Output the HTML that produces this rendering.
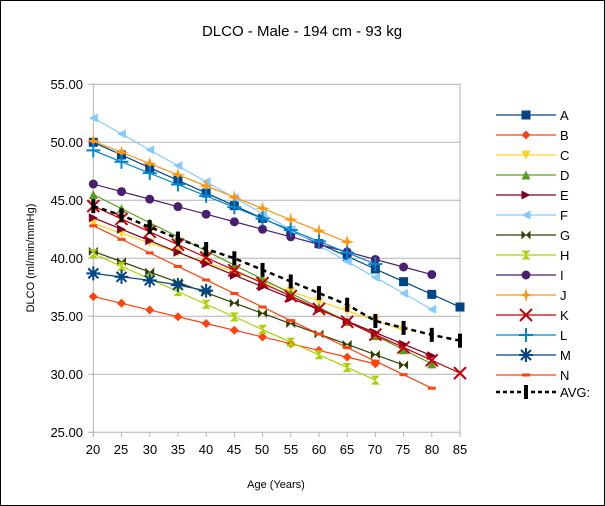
<!DOCTYPE html>
<html><head><meta charset="utf-8"><style>
html,body{margin:0;padding:0;background:#fff;}
svg{display:block;font-family:"Liberation Sans",sans-serif;}
</style></head><body>
<svg id="s" width="605" height="506" viewBox="0 0 605 506" xmlns="http://www.w3.org/2000/svg">
<rect x="0.5" y="0.5" width="604" height="505" fill="#fff" stroke="#000" stroke-width="1"/>
<text x="302" y="36" font-size="15" text-anchor="middle" fill="#000">DLCO - Male - 194 cm - 93 kg</text>
<g stroke="#b3b3b3" stroke-width="1" id="grid"></g>
<g font-size="13" fill="#000" text-anchor="end">
<text x="83" y="89">55.00</text>
<text x="83" y="147">50.00</text>
<text x="83" y="205">45.00</text>
<text x="83" y="263">40.00</text>
<text x="83" y="321">35.00</text>
<text x="83" y="379">30.00</text>
<text x="83" y="437">25.00</text>
</g>
<g font-size="13" fill="#000" text-anchor="middle" id="xl">
<text x="93" y="454">20</text><text x="121" y="454">25</text><text x="150" y="454">30</text><text x="178" y="454">35</text><text x="206" y="454">40</text><text x="234" y="454">45</text><text x="262" y="454">50</text><text x="291" y="454">55</text><text x="319" y="454">60</text><text x="347" y="454">65</text><text x="375" y="454">70</text><text x="403" y="454">75</text><text x="432" y="454">80</text><text x="460" y="454">85</text>
</g>
<text x="276" y="488" font-size="11" text-anchor="middle">Age (Years)</text>
<text transform="translate(34,258) rotate(-90)" font-size="11" text-anchor="middle">DLCO (ml/min/mmHg)</text>
<g font-size="13" fill="#000">
<text x="560" y="120">A</text><text x="560" y="140">B</text><text x="560" y="160">C</text><text x="560" y="180">D</text><text x="560" y="200">E</text><text x="560" y="220">F</text><text x="560" y="240">G</text><text x="560" y="260">H</text><text x="560" y="280">I</text><text x="560" y="300">J</text><text x="560" y="320">K</text><text x="560" y="340">L</text><text x="560" y="360">M</text><text x="560" y="380">N</text><text x="560" y="397">AVG:</text>
</g>
<g id="series"></g>
</svg>
<script>
var NS="http://www.w3.org/2000/svg";
function X(a){return 93.3+(a-20)*(366.7/65);}
function Y(v){return 84.3+(55-v)*11.6;}
var grid=document.getElementById('grid');
function el(t,at,p){var e=document.createElementNS(NS,t);for(var k in at)e.setAttribute(k,at[k]);(p||document.getElementById('series')).appendChild(e);return e;}
for(var v=25;v<=55;v+=5){el('line',{x1:88,x2:460,y1:Y(v),y2:Y(v)},grid);}
el('line',{x1:93.3,x2:93.3,y1:84,y2:437},grid);
el('line',{x1:460,x2:460,y1:84,y2:432},grid);
for(var a=20;a<=85;a+=5){el('line',{x1:X(a),x2:X(a),y1:432,y2:437},grid);}
function lin(a0,v0,a1,v1){var r=[];for(var a=a0;a<=a1;a+=5){r.push([a,v0+(v1-v0)*(a-a0)/(a1-a0)]);}return r;}
function mk(type,c,x,y){
 var s=4.5;
 switch(type){
 case 'sq':el('rect',{x:x-s,y:y-s,width:2*s,height:2*s,fill:c});break;
 case 'dia':el('polygon',{points:[x,y-s,x+s,y,x,y+s,x-s,y].join(' '),fill:c});break;
 case 'tdn':el('polygon',{points:[x-s,y-s,x+s,y-s,x,y+s].join(' '),fill:c});break;
 case 'tup':el('polygon',{points:[x-s,y+s,x+s,y+s,x,y-s].join(' '),fill:c});break;
 case 'tr':el('polygon',{points:[x-s,y-s,x+s,y,x-s,y+s].join(' '),fill:c});break;
 case 'tl':el('polygon',{points:[x+s,y-s,x-s,y,x+s,y+s].join(' '),fill:c});break;
 case 'bow':el('polygon',{points:[x-s,y-s,x,y,x-s,y+s].join(' '),fill:c});el('polygon',{points:[x+s,y-s,x,y,x+s,y+s].join(' '),fill:c});break;
 case 'hg':el('polygon',{points:[x-s,y-s,x+s,y-s,x,y].join(' '),fill:c});el('polygon',{points:[x-s,y+s,x+s,y+s,x,y].join(' '),fill:c});break;
 case 'cir':el('circle',{cx:x,cy:y,r:s,fill:c});break;
 case 'star':el('path',{d:'M'+x+' '+(y-7)+' L'+(x+1.5)+' '+(y-1.5)+' L'+(x+7)+' '+y+' L'+(x+1.5)+' '+(y+1.5)+' L'+x+' '+(y+7)+' L'+(x-1.5)+' '+(y+1.5)+' L'+(x-7)+' '+y+' L'+(x-1.5)+' '+(y-1.5)+'Z',fill:c});break;
 case 'x':el('path',{d:'M'+(x-6)+' '+(y-6)+'L'+(x+6)+' '+(y+6)+'M'+(x+6)+' '+(y-6)+'L'+(x-6)+' '+(y+6),stroke:c,'stroke-width':2,fill:'none'});break;
 case 'plus':el('path',{d:'M'+(x-7)+' '+y+'L'+(x+7)+' '+y+'M'+x+' '+(y-7)+'L'+x+' '+(y+7),stroke:c,'stroke-width':2,fill:'none'});break;
 case 'ast':el('path',{d:'M'+(x-7)+' '+y+'L'+(x+7)+' '+y+'M'+x+' '+(y-7)+'L'+x+' '+(y+7)+'M'+(x-5)+' '+(y-5)+'L'+(x+5)+' '+(y+5)+'M'+(x+5)+' '+(y-5)+'L'+(x-5)+' '+(y+5),stroke:c,'stroke-width':2,fill:'none'});break;
 case 'dash':el('rect',{x:x-4,y:y-1.5,width:8,height:3,fill:c});break;
 case 'bar':el('rect',{x:x-2,y:y-7,width:4,height:14,fill:c});break;
 }
}
var S=[
 ['#004586','sq',lin(20,50.0,85,35.8)],
 ['#ff420e','dia',lin(20,36.7,70,30.9)],
 ['#ffd320','tdn',lin(20,43.0,75,33.8)],
 ['#579d1c','tup',lin(20,45.5,80,30.9)],
 ['#7e0021','tr',lin(20,43.5,80,31.6)],
 ['#83caff','tl',lin(20,52.1,80,35.6)],
 ['#314004','bow',lin(20,40.6,75,30.8)],
 ['#aecf00','hg',lin(20,40.4,70,29.5)],
 ['#4b1f6f','cir',lin(20,46.4,80,38.6)],
 ['#ff950e','star',lin(20,50.1,65,41.4)],
 ['#c5000b','x',lin(20,44.5,85,30.1)],
 ['#0084d1','plus',lin(20,49.3,70,39.5)],
 ['#004586','ast',[[20,38.7],[25,38.4],[30,38.1],[35,37.7],[40,37.2]]],
 ['#ff420e','dash',lin(20,42.8,80,28.8)]
];
var avg=[[20,44.5],[25,43.7],[30,42.7],[35,41.7],[40,40.8],[45,40.0],[50,39.0],[55,38.0],[60,37.0],[65,36.0],[70,34.6],[75,34.0],[80,33.4],[85,32.9]];
S.forEach(function(s,i){
 var pts=s[2].map(function(p){return X(p[0])+','+Y(p[1]);}).join(' ');
 el('polyline',{points:pts,fill:'none',stroke:s[0],'stroke-width':1.2});
 s[2].forEach(function(p){mk(s[1],s[0],X(p[0]),Y(p[1]));});
 var ly=115+i*20;
 el('line',{x1:496,x2:556,y1:ly,y2:ly,stroke:s[0],'stroke-width':1.2});
 mk(s[1],s[0],526,ly);
});
el('polyline',{points:avg.map(function(p){return X(p[0])+','+Y(p[1]);}).join(' '),fill:'none',stroke:'#000','stroke-width':2.5,'stroke-dasharray':'5,4'});
avg.forEach(function(p){mk('bar','#000',X(p[0]),Y(p[1]));});
el('line',{x1:496,x2:556,y1:392,y2:392,stroke:'#000','stroke-width':2.5,'stroke-dasharray':'4,3'});
mk('bar','#000',526,392);
</script>
</body></html>
